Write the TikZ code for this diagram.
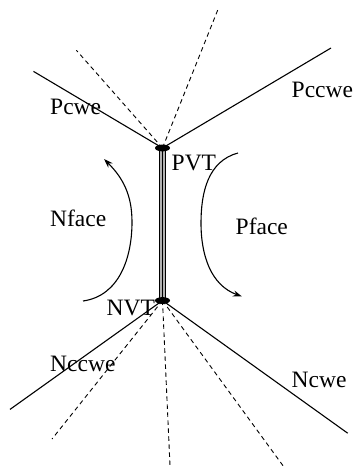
\documentclass[tikz,border=0pt]{standalone}
\usepackage{fontspec}
\setmainfont{Liberation Serif}
\usetikzlibrary{arrows.meta}
\begin{document}
\begin{tikzpicture}[x=1pt,y=1pt,
  edge/.style={line width=1.1pt},
  dashedge/.style={line width=0.9pt,dash pattern=on 4.5pt off 3.5pt},
  lbl/.style={anchor=base west,inner sep=0pt,font=\fontsize{23.5}{26}\selectfont},
  rot/.style={line width=1.1pt,-{Stealth[length=9pt,width=6pt]}}]
\useasboundingbox (0,0) rectangle (354,-473);
\coordinate (P) at (162.5,-148);
\coordinate (N) at (162.5,-300.5);
\coordinate (p1) at (33.5,-71.4);
\coordinate (p2) at (331,-48);
\coordinate (p3) at (76.4,-50.3);
\coordinate (p4) at (218.4,-8.4);
\coordinate (n1) at (10,-409.4);
\coordinate (n2) at (347.7,-433.2);
\coordinate (n3) at (52,-439);
\coordinate (n4) at (170,-465.7);
\coordinate (n5) at (283,-465.7);
\draw[edge] (P) -- (p1);
\draw[edge] (P) -- (p2);
\draw[dashedge] (P) -- (p3);
\draw[dashedge] (P) -- (p4);
\draw[edge] (N) -- (n1);
\draw[edge] (N) -- (n2);
\draw[dashedge] (N) -- (n3);
\draw[dashedge] (N) -- (n4);
\draw[dashedge] (N) -- (n5);
\draw[line width=6.5pt,black] (P) -- (N);
\draw[line width=4.3pt,gray!60] (P) -- (N);
\draw[line width=1.4pt,black] (P) -- (N);
\fill (P) ellipse [x radius=7.5pt,y radius=3.4pt];
\fill (N) ellipse [x radius=7.5pt,y radius=3.4pt];
\coordinate (la) at (83,-301);
\coordinate (lb) at (132,-222);
\coordinate (lc) at (104,-159);
\coordinate (ra) at (238,-153);
\coordinate (rb) at (201,-223);
\coordinate (rc) at (242,-296.5);
\draw[rot] (la) to[out=8,in=-90] (lb) to[out=90,in=-45] (lc);
\draw[rot] (ra) to[out=195,in=90] (rb) to[out=-90,in=160] (rc);
\node[lbl] (Pcwe) at (50,-114.6) {Pcwe};
\node[lbl] (Pccwe) at (291.5,-98) {Pccwe};
\node[lbl] (PVT) at (171.5,-170) {PVT};
\node[lbl] (Nface) at (50,-226.8) {Nface};
\node[lbl] (Pface) at (235.5,-234.5) {Pface};
\node[lbl] (NVT) at (106.5,-315) {NVT};
\node[lbl] (Nccwe) at (50,-371) {Nccwe};
\node[lbl] (Ncwe) at (291.5,-387.6) {Ncwe};
\end{tikzpicture}
\end{document}
